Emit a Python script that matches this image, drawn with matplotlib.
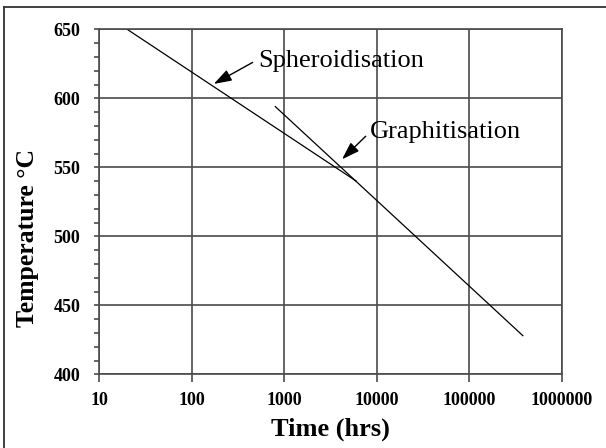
import matplotlib
matplotlib.use("Agg")
from matplotlib import pyplot as plt
from matplotlib.ticker import FixedLocator, MultipleLocator, NullLocator
from matplotlib.lines import Line2D

# values
spheroid_time = [20, 6000]
spheroid_temp = [650, 540]
graphite_time = [800, 380000]
graphite_temp = [594, 428]

x_ticks = [10, 100, 1000, 10000, 100000, 1000000]
x_tick_labels = ["10", "100", "1000", "10000", "100000", "1000000"]
y_ticks = [400, 450, 500, 550, 600, 650]

spheroid_label = "Spheroidisation"
spheroid_text_pos = (520, 627)
spheroid_arrow_tail = (455, 626)
spheroid_arrow_head = (173, 610.4)

graphite_label = "Graphitisation"
graphite_text_pos = (8450, 575.5)
graphite_arrow_tail = (7600, 572.5)
graphite_arrow_head = (4215, 555.8)

serif = ["Liberation Serif", "DejaVu Serif"]
grid_color = "#4a4a4a"

fig = plt.figure(figsize=(6.06, 4.48), dpi=100)
ax = fig.add_axes([99.3 / 606, 73.7 / 448, 462.4 / 606, 345 / 448])

ax.plot(spheroid_time, spheroid_temp, color="black", lw=0.9)
ax.plot(graphite_time, graphite_temp, color="black", lw=0.9)

ax.set_xscale("log")
ax.set_xlim(10, 1000000)
ax.set_ylim(400, 650)

ax.xaxis.set_major_locator(FixedLocator(x_ticks))
ax.xaxis.set_minor_locator(NullLocator())
ax.set_xticklabels(x_tick_labels)
ax.yaxis.set_major_locator(FixedLocator(y_ticks))
ax.yaxis.set_minor_locator(MultipleLocator(10))

ax.grid(True, which="major", color=grid_color, lw=1.2)
ax.set_axisbelow(True)
for s in ax.spines.values():
    s.set_color(grid_color)
    s.set_linewidth(1.2)

ax.tick_params(axis="x", which="major", direction="out", length=5.5, width=1.2,
               color=grid_color, pad=7)
ax.tick_params(axis="y", which="both", direction="out", length=3.6, width=1.2,
               color=grid_color, pad=10)
for lbl in ax.get_xticklabels() + ax.get_yticklabels():
    lbl.set_family(serif)
    lbl.set_fontweight("bold")
    lbl.set_fontsize(13)

ax.set_xlabel("Time (hrs)", family=serif, fontweight="bold", fontsize=19)
ax.set_ylabel("Temperature °C", family=serif, fontweight="bold", fontsize=18.5)
ax.xaxis.set_label_coords(0.5, -0.126)
ax.yaxis.set_label_coords(-0.130, 0.395)

ax.text(*spheroid_text_pos, spheroid_label, family=serif, fontsize=19,
        ha="left", va="center")
ax.text(*graphite_text_pos, graphite_label, family=serif, fontsize=19,
        ha="left", va="center")

arrow = dict(arrowstyle="-|>,head_length=0.6,head_width=0.2", color="black",
             lw=1.0, mutation_scale=18, shrinkA=0, shrinkB=0)
ax.annotate("", xy=spheroid_arrow_head, xytext=spheroid_arrow_tail, arrowprops=arrow)
ax.annotate("", xy=graphite_arrow_head, xytext=graphite_arrow_tail, arrowprops=arrow)

# cropped outer frame: only top and left edges visible
fig.add_artist(Line2D([4 / 606, 1], [1 - 7 / 448, 1 - 7 / 448],
                      transform=fig.transFigure, color="#333333", lw=1.3))
fig.add_artist(Line2D([4 / 606, 4 / 606], [0, 1 - 7 / 448],
                      transform=fig.transFigure, color="#333333", lw=1.3))

fig.savefig("out.png", dpi=100)
